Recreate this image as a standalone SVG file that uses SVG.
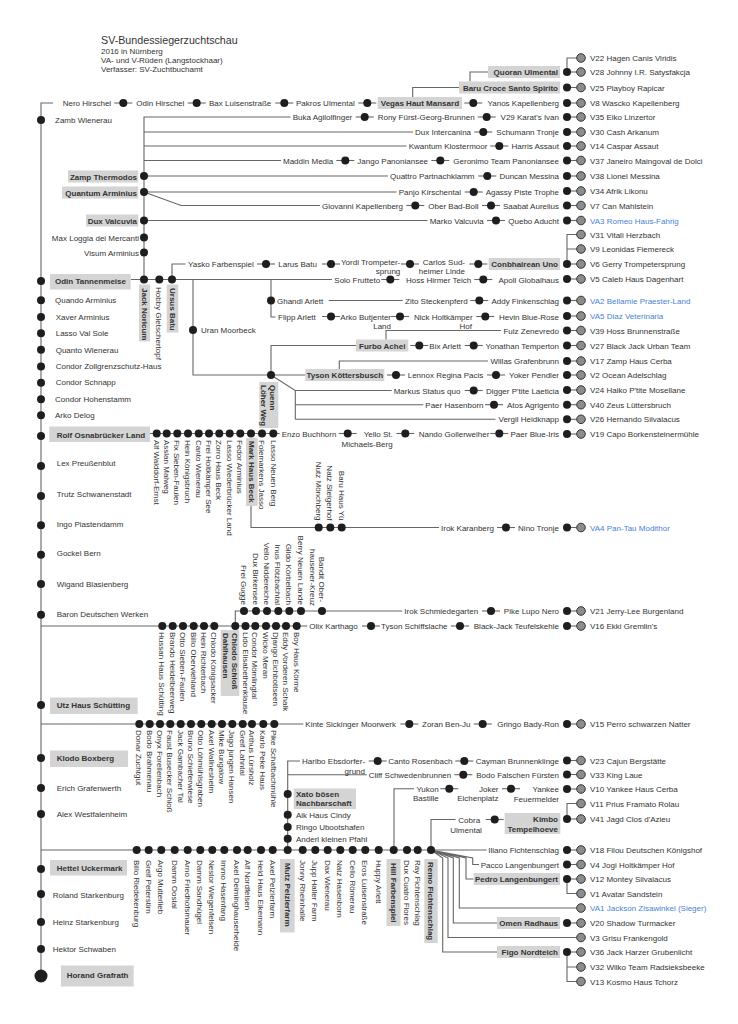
<svg xmlns="http://www.w3.org/2000/svg" width="738" height="1024" viewBox="0 0 738 1024">
<style>
text{font-family:"Liberation Sans",Arial,Helvetica,sans-serif;font-size:8px;fill:#333}
.t{font-size:10.7px}
.b{font-weight:bold}
.e{text-anchor:end}
.m{text-anchor:middle}
.bl{fill:#4a82d4}
.bx{fill:#d4d4d4}
.ln{stroke:#666;stroke-width:1.1;fill:none}
.bd{fill:#1e1e1e}
.gd{fill:#8c8c8c;stroke:#333;stroke-width:1}
</style>
<defs>
<g id="c"><line x1="-9" x2="9" class="ln"/><circle r="4" class="bd"/></g>
<g id="e"><line x1="567" x2="581" class="ln"/><circle cx="567" r="4" class="bd"/><circle cx="581" r="4.3" class="gd"/></g>
<circle id="g" cx="581" r="4.3" class="gd"/>
<circle id="d" r="4" class="bd"/>
</defs>
<rect width="738" height="1024" fill="#fff"/>
<g id="title">
<text class="t" x="101" y="44">SV-Bundessiegerzuchtschau</text>
<text x="101" y="53.5">2016 in Nürnberg</text>
<text x="101" y="62.5">VA- und V-Rüden (Langstockhaar)</text>
<text x="101" y="71.5">Verfasser: SV-Zuchtbuchamt</text>
</g>
<g id="connectors" class="ln">
<path d="M53,103H41V976"/>
<path d="M290.5,117H144V279.5"/>
<path d="M144,132H413M144,146H406.5M144,160.5H281M144,176H388M144,192H396.5M144,192L181,205.5H320M144,220.5H427.5"/>
<path d="M412.7,97V87.5H459M470,81.5V72H488M567,72V58H581"/>
<path d="M567,264V234.5H581M567,249H581"/>
<path d="M130.7,279.5H332M172,279.5V264H185.5M193,279.5V375H305.3M271,279.5V317H275.5M328.7,300.5H402.7"/>
<path d="M386,339.5V330.5H501M271,375V345.5H356M339.3,369V361H488"/>
<path d="M271,375L295.3,390.5V419.3M295.3,390.5H391.7M295.3,404.7H423.3M295.3,419.3H495.5"/>
<path d="M150,433.5H279.7M251,506V527.5H439"/>
<path d="M235.3,626V611H402.3M41,626H307.3M41,724H303.3"/>
<path d="M300,761H287.7V850M287.7,774.7H366.7M394,850V788.7H414M431,850V819.5H455.5"/>
<path d="M41,850H486.7"/>
<path d="M431,850L472.7,858V864.5H479M431,850L466,858V879H473.7M431,850L459.3,858V908H581M431,850L453.3,858V923H497M431,850L448,858V937.5H581M431,850L442.7,858V952H497"/>
<path d="M567,879V893.5H581M567,819V803.5H581M567,952V981.5H581M567,967H581"/>
</g>

<g id="spine">
<use href="#d" x="41" y="120"/><text x="55" y="123">Zamb Wienerau</text>
<use href="#d" x="41" y="281"/><rect class="bx" x="50" y="274" width="80.7" height="15.5"/><text class="b" x="55" y="284.3">Odin Tannenmeise</text>
<use href="#d" x="41" y="300.3"/><text x="55" y="303.3">Quando Arminius</text>
<use href="#d" x="41" y="317"/><text x="55.7" y="319.5">Xaver Arminius</text>
<use href="#d" x="41" y="333.3"/><text x="55.7" y="336">Lasso Val Sole</text>
<use href="#d" x="41" y="349.7"/><text x="55.7" y="352.5">Quanto Wienerau</text>
<use href="#d" x="41" y="366.5"/><text x="55.7" y="369">Condor Zollgrenzschutz-Haus</text>
<use href="#d" x="41" y="382.7"/><text x="55.7" y="385.3">Condor Schnapp</text>
<use href="#d" x="41" y="399.3"/><text x="55" y="401.7">Condor Hohenstamm</text>
<use href="#d" x="41" y="415.3"/><text x="55" y="418.3">Arko Delog</text>
<use href="#d" x="41" y="436"/><rect class="bx" x="49.3" y="426.5" width="100.7" height="15.5"/><text class="b" x="56.7" y="437.5">Rolf Osnabrücker Land</text>
<use href="#d" x="41" y="466"/><text x="56.7" y="466.3">Lex Preußenblut</text>
<use href="#d" x="41" y="496"/><text x="56.7" y="497">Trutz Schwanenstadt</text>
<use href="#d" x="41" y="525.3"/><text x="56.7" y="526.7">Ingo Piastendamm</text>
<use href="#d" x="41" y="554.7"/><text x="56.7" y="556.3">Gockel Bern</text>
<use href="#d" x="41" y="584"/><text x="56.7" y="586.7">Wigand Blasienberg</text>
<use href="#d" x="41" y="614.7"/><text x="56.7" y="616.7">Baron Deutschen Werken</text>
<use href="#d" x="41" y="705"/><rect class="bx" x="50" y="697.5" width="87.7" height="16.5"/><text class="b" x="56.7" y="708">Utz Haus Schütting</text>
<use href="#d" x="41" y="758"/><rect class="bx" x="50" y="750.5" width="78" height="16.5"/><text class="b" x="56.7" y="761">Klodo Boxberg</text>
<use href="#d" x="41" y="788"/><text x="56.7" y="790.7">Erich Grafenwerth</text>
<use href="#d" x="41" y="814"/><text x="56.7" y="817.3">Alex Westfalenheim</text>
<use href="#d" x="41" y="869"/><rect class="bx" x="50" y="860" width="77" height="15.5"/><text class="b" x="56.7" y="871">Hettel Uckermark</text>
<use href="#d" x="41" y="894"/><text x="52.7" y="897.7">Roland Starkenburg</text>
<use href="#d" x="41" y="922"/><text x="52.7" y="925">Heinz Starkenburg</text>
<use href="#d" x="41" y="949"/><text x="52.7" y="952.3">Hektor Schwaben</text>
<circle class="bd" cx="41" cy="976" r="6.5"/><rect class="bx" x="61" y="965.5" width="72.7" height="21"/><text class="b" x="66.7" y="978.3">Horand Grafrath</text>
</g>

<g id="top-chains">
<text x="62.7" y="106">Nero Hirschel</text>
<use href="#c" x="123.3" y="103"/>
<text x="136.3" y="106">Odin Hirschel</text>
<use href="#c" x="196.7" y="103"/>
<text x="209" y="106">Bax Luisenstraße</text>
<use href="#c" x="284.3" y="103"/>
<text x="296" y="106">Pakros Ulmental</text>
<use href="#c" x="367.3" y="103"/>
<rect class="bx" x="377.7" y="97" width="84.3" height="12"/><text class="b m" x="419.9" y="106">Vegas Haut Mansard</text>
<use href="#c" x="473.3" y="103"/>
<text class="e" x="559" y="106">Yanos Kapellenberg</text>
<rect class="bx" x="488" y="66" width="72" height="12"/><text class="b e" x="558" y="75">Quoran Ulmental</text>
<rect class="bx" x="459" y="81.5" width="101" height="12"/><text class="b e" x="558" y="90.5">Baru Croce Santo Spirito</text>

<text x="292.7" y="120">Buka Agilolfinger</text>
<use href="#c" x="364.7" y="117"/>
<text x="377.7" y="120">Rony Fürst-Georg-Brunnen</text>
<use href="#c" x="486.7" y="117"/>
<text class="e" x="559" y="120">V29 Karat's Ivan</text>

<text x="415" y="135">Dux Intercanina</text>
<use href="#c" x="483.3" y="132"/>
<text class="e" x="559" y="135">Schumann Tronje</text>

<text x="408.7" y="149">Kwantum Klostermoor</text>
<use href="#c" x="499.3" y="146"/>
<text class="e" x="559" y="149">Harris Assaut</text>

<text x="283" y="163.5">Maddin Media</text>
<use href="#c" x="345.3" y="160.5"/>
<text x="357.3" y="163.5">Jango Panoniansee</text>
<use href="#c" x="440.3" y="160.5"/>
<text class="e" x="559" y="163.5">Geronimo Team Panoniansee</text>

<text x="390" y="179">Quattro Partnachklamm</text>
<use href="#c" x="487.3" y="176"/>
<text class="e" x="559" y="179">Duncan Messina</text>

<text x="398.7" y="195">Panjo Kirschental</text>
<use href="#c" x="473.7" y="192"/>
<text class="e" x="559" y="195">Agassy Piste Trophe</text>

<text x="322" y="208.5">Giovanni Kapellenberg</text>
<use href="#c" x="415.3" y="205.5"/>
<text x="428.3" y="208.5">Ober Bad-Boll</text>
<use href="#c" x="491" y="205.5"/>
<text class="e" x="559" y="208.5">Saabat Aurelius</text>

<text x="429.7" y="223.5">Marko Valcuvia</text>
<use href="#c" x="496" y="220.5"/>
<text class="e" x="559" y="223.5">Quebo Aducht</text>
</g>

<g id="left-tree">
<use href="#d" x="144" y="176"/><rect class="bx" x="68" y="170.5" width="70.3" height="12"/><text class="b e" x="137" y="179.5">Zamp Thermodos</text>
<use href="#d" x="144" y="192"/><rect class="bx" x="62" y="186.5" width="76.3" height="12"/><text class="b e" x="137" y="195.5">Quantum Arminius</text>
<use href="#d" x="144" y="220.5"/><rect class="bx" x="86" y="214.5" width="52.3" height="12"/><text class="b e" x="137" y="224">Dux Valcuvia</text>
<use href="#d" x="144" y="237.5"/><text class="e" x="139" y="240.5">Max Loggia dei Mercanti</text>
<use href="#d" x="144" y="252.5"/><text class="e" x="139" y="255.5">Visum Arminius</text>
</g>

<g id="odin-row">
<use href="#d" x="144" y="279.5"/><rect class="bx" x="139" y="284.5" width="11" height="57"/>
<text class="b" transform="translate(144.5,288) rotate(90)" y="3">Jack Noricum</text>
<use href="#d" x="159.3" y="279.5"/>
<text transform="translate(159.3,287) rotate(90)" y="3">Hobby Gletschertopf</text>
<use href="#d" x="172" y="279.5"/><rect class="bx" x="166.7" y="284.5" width="11.6" height="48"/>
<text class="b" transform="translate(172.5,288) rotate(90)" y="3">Ursus Batu</text>
<text x="334.3" y="282.5">Solo Frutteto</text>
<use href="#c" x="390.3" y="279.5"/>
<text x="406" y="282.5">Hoss Hirmer Teich</text>
<use href="#c" x="483.3" y="279.5"/>
<text class="e" x="559" y="282.5">Apoll Globalhaus</text>

<text x="188" y="267">Yasko Farbenspiel</text>
<use href="#c" x="266" y="264"/>
<text x="278.3" y="267">Larus Batu</text>
<use href="#c" x="331" y="264"/>
<text class="e" x="400.3" y="265">Yordi Trompeter-</text>
<text class="e" x="400.3" y="274">sprung</text>
<use href="#c" x="410" y="264"/>
<text class="e" x="465" y="265">Carlos Sud-</text>
<text class="e" x="465" y="274">heimer Linde</text>
<use href="#c" x="478.3" y="264"/>
<rect class="bx" x="488.7" y="258" width="71.3" height="12"/><text class="b e" x="558" y="267">Conbhairean Uno</text>

<use href="#d" x="193" y="330"/><text x="201" y="333">Uran Moorbeck</text>

<use href="#d" x="271" y="300.5"/>
<text x="277" y="303.5">Ghandi Arlett</text>
<text x="405" y="303.5">Zito Steckenpferd</text>
<use href="#c" x="479.3" y="300.5"/>
<text class="e" x="559" y="303.5">Addy Finkenschlag</text>

<text x="278" y="319.5">Flipp Arlett</text>
<use href="#c" x="331" y="316.5"/>
<text class="e" x="391" y="319.5">Arko Butjenter</text>
<text class="e" x="391" y="329">Land</text>
<use href="#c" x="400" y="316.5"/>
<text class="e" x="472.7" y="319.5">Nick Holtkämper</text>
<text class="e" x="472" y="329">Hof</text>
<use href="#c" x="485.3" y="316.5"/>
<text class="e" x="559" y="319.5">Hevin Blue-Rose</text>

<text class="e" x="559" y="333.5">Fulz Zenevredo</text>

<rect class="bx" x="356" y="339.5" width="52.3" height="12"/><text class="b m" x="382.2" y="348.5">Furbo Achei</text>
<use href="#c" x="419.3" y="345.5"/>
<text x="429.3" y="348.5">Bix Arlett</text>
<use href="#c" x="473.7" y="345.5"/>
<text class="e" x="559" y="348.5">Yonathan Temperton</text>

<text class="e" x="559" y="364">Willas Grafenbrunn</text>

<use href="#d" x="271" y="375"/>
<rect class="bx" x="259.3" y="382" width="19" height="46"/>
<text class="b" transform="translate(273,385) rotate(90)" y="3">Quenn</text>
<text class="b" transform="translate(263.5,385) rotate(90)" y="3">Löher Weg</text>
<rect class="bx" x="305.3" y="369" width="79" height="12"/><text class="b m" x="344.8" y="378">Tyson Köttersbusch</text>
<use href="#c" x="396" y="375"/>
<text x="407.7" y="378">Lennox Regina Pacis</text>
<use href="#c" x="496" y="375"/>
<text class="e" x="559" y="378">Yoker Pendler</text>

<text x="393.7" y="393.5">Markus Status quo</text>
<use href="#c" x="473.7" y="390.5"/>
<text class="e" x="559" y="393.5">Digger P'tite Laeticia</text>

<text x="425.3" y="407.7">Paer Hasenborn</text>
<use href="#c" x="494" y="404.7"/>
<text class="e" x="559" y="407.7">Atos Agrigento</text>

<text class="e" x="559" y="422.3">Vergil Heidknapp</text>
</g>

<g id="rolf-row">
<use href="#d" x="156.7" y="433.5"/><use href="#d" x="166.7" y="433.5"/><use href="#d" x="177.3" y="433.5"/><use href="#d" x="188" y="433.5"/><use href="#d" x="198.7" y="433.5"/><use href="#d" x="209" y="433.5"/><use href="#d" x="219.3" y="433.5"/><use href="#d" x="229.7" y="433.5"/><use href="#d" x="240.3" y="433.5"/><use href="#d" x="251" y="433.5"/><use href="#d" x="262" y="433.5"/><use href="#d" x="273.3" y="433.5"/>
<text transform="translate(156.7,440) rotate(90)" y="3">Alf Walddorf-Ernst</text>
<text transform="translate(166.7,440) rotate(90)" y="3">Asslan Malweg</text>
<text transform="translate(177.3,440) rotate(90)" y="3">Fix Sieben-Faulen</text>
<text transform="translate(188,440) rotate(90)" y="3">Hein Königsbruch</text>
<text transform="translate(198.7,440) rotate(90)" y="3">Canto Wienerau</text>
<text transform="translate(209,440) rotate(90)" y="3">Frei Holtkämper See</text>
<text transform="translate(219.3,440) rotate(90)" y="3">Zorro Haus Beck</text>
<text transform="translate(229.7,440) rotate(90)" y="3">Lasso Wiederbrücker Land</text>
<text transform="translate(240.3,440) rotate(90)" y="3">Fedor Arminius</text>
<rect class="bx" x="246" y="438" width="11.7" height="68"/>
<text class="b" transform="translate(251.5,441) rotate(90)" y="3">Mark Haus Beck</text>
<text transform="translate(262,440) rotate(90)" y="3">Folemarkens Jasso</text>
<text transform="translate(273.8,440) rotate(90)" y="3">Lasso Neuen Berg</text>
<text x="281.7" y="436.5">Enzo Buchhorn</text>
<use href="#c" x="347.7" y="433.5"/>
<text class="e" x="392.7" y="436.5">Yello St.</text>
<text class="e" x="392.7" y="446.5">Michaels-Berg</text>
<use href="#c" x="405.3" y="433.5"/>
<text x="418.7" y="436.5">Nando Gollerweiher</text>
<use href="#c" x="499.3" y="433.5"/>
<text class="e" x="559" y="437">Paer Blue-Iris</text>
</g>

<g id="irok-row">
<use href="#d" x="318.7" y="527.5"/><use href="#d" x="330.3" y="527.5"/><use href="#d" x="341.7" y="527.5"/>
<text class="e" transform="translate(318.7,520.5) rotate(90)" y="3">Nutz Mönchberg</text>
<text class="e" transform="translate(330.3,520.5) rotate(90)" y="3">Natz Steigerhof</text>
<text class="e" transform="translate(341.7,520.5) rotate(90)" y="3">Baru Haus Yü</text>
<text x="441" y="530.5">Irok Karanberg</text>
<use href="#c" x="506" y="527.5"/>
<text class="e" x="559" y="530.5">Nino Tronje</text>
</g>

<g id="frei-row">
<use href="#d" x="244" y="611"/><use href="#d" x="256" y="611"/><use href="#d" x="267" y="611"/><use href="#d" x="278.3" y="611"/><use href="#d" x="289.3" y="611"/><use href="#d" x="301" y="611"/><use href="#d" x="322" y="611"/>
<text class="e" transform="translate(244,605) rotate(90)" y="3">Frei Gugge</text>
<text class="e" transform="translate(256,605) rotate(90)" y="3">Dux Birkensee</text>
<text class="e" transform="translate(267,605) rotate(90)" y="3">Vello Niddereiche</text>
<text class="e" transform="translate(278.3,605) rotate(90)" y="3">Inus Flötzbachtal</text>
<text class="e" transform="translate(289.3,605) rotate(90)" y="3">Gildo Körbelbach</text>
<text class="e" transform="translate(301,605) rotate(90)" y="3">Berry Neuen Lande</text>
<text class="e" transform="translate(321.5,602) rotate(90)" y="3">Bandit Ober-</text>
<text class="e" transform="translate(312.5,606) rotate(90)" y="3">hausener-Kreuz</text>
<text x="404.3" y="614">Irok Schmiedegarten</text>
<use href="#c" x="491" y="611"/>
<text class="e" x="559" y="614">Pike Lupo Nero</text>
</g>

<g id="olix-row">
<use href="#d" x="162.3" y="626"/><use href="#d" x="172.7" y="626"/><use href="#d" x="183" y="626"/><use href="#d" x="193.7" y="626"/><use href="#d" x="204" y="626"/><use href="#d" x="214.3" y="626"/><use href="#d" x="235.3" y="626"/><use href="#d" x="245.5" y="626"/><use href="#d" x="255.3" y="626"/><use href="#d" x="266" y="626"/><use href="#d" x="276" y="626"/><use href="#d" x="286" y="626"/><use href="#d" x="296.7" y="626"/>
<text transform="translate(162.3,632) rotate(90)" y="3">Hussan Haus Schütting</text>
<text transform="translate(172.7,632) rotate(90)" y="3">Brando Heidelbeerweg</text>
<text transform="translate(183,632) rotate(90)" y="3">Otto Sieben-Faulen</text>
<text transform="translate(193.7,632) rotate(90)" y="3">Billo Oberviehland</text>
<text transform="translate(204,632) rotate(90)" y="3">Hein Richterbach</text>
<text transform="translate(214.3,632) rotate(90)" y="3">Chlodo Königsacker</text>
<rect class="bx" x="220.7" y="630" width="18.6" height="66"/>
<text class="b" transform="translate(234.5,633) rotate(90)" y="3">Chlodo Schloß</text>
<text class="b" transform="translate(225.5,633) rotate(90)" y="3">Dahlhausen</text>
<text transform="translate(245.5,632) rotate(90)" y="3">Lido Elisabethenklause</text>
<text transform="translate(255.3,632) rotate(90)" y="3">Condor Mömlingtal</text>
<text transform="translate(266,632) rotate(90)" y="3">Wicko Meran</text>
<text transform="translate(276,632) rotate(90)" y="3">Django Eichbottseen</text>
<text transform="translate(286,632) rotate(90)" y="3">Eddy Vorderen Schalk</text>
<text transform="translate(296.7,632) rotate(90)" y="3">Boy Haus Körme</text>
<text x="309.3" y="629">Olix Karthago</text>
<use href="#c" x="371" y="626"/>
<text x="381" y="629">Tyson Schiffslache</text>
<use href="#c" x="460" y="626"/>
<text class="e" x="559" y="629">Black-Jack Teufelskehle</text>
</g>

<g id="kinte-row">
<use href="#d" x="139.3" y="724"/><use href="#d" x="149.7" y="724"/><use href="#d" x="160" y="724"/><use href="#d" x="170.3" y="724"/><use href="#d" x="180.7" y="724"/><use href="#d" x="191" y="724"/><use href="#d" x="201.3" y="724"/><use href="#d" x="211.7" y="724"/><use href="#d" x="222" y="724"/><use href="#d" x="232.3" y="724"/><use href="#d" x="242.7" y="724"/><use href="#d" x="252" y="724"/><use href="#d" x="263.3" y="724"/><use href="#d" x="274.3" y="724"/>
<text transform="translate(139.3,730) rotate(90)" y="3">Donar Zuchtgut</text>
<text transform="translate(149.7,730) rotate(90)" y="3">Bodo Brahmenau</text>
<text transform="translate(160,730) rotate(90)" y="3">Onyx Forellenbach</text>
<text transform="translate(170.3,730) rotate(90)" y="3">Faust Busecker Schloß</text>
<text transform="translate(180.7,730) rotate(90)" y="3">Jack Gambacher Tal</text>
<text transform="translate(191,730) rotate(90)" y="3">Bruno Schieferwiese</text>
<text transform="translate(201.3,730) rotate(90)" y="3">Otto Löhmühlsgraben</text>
<text transform="translate(211.7,730) rotate(90)" y="3">Axel Wallnesheim</text>
<text transform="translate(222,730) rotate(90)" y="3">Mike Bungalow</text>
<text transform="translate(232.3,730) rotate(90)" y="3">Jago jungen Hansen</text>
<text transform="translate(242.7,730) rotate(90)" y="3">Greif Lahntal</text>
<text transform="translate(252,730) rotate(90)" y="3">Arthus Lürsholz</text>
<text transform="translate(263.3,730) rotate(90)" y="3">Karlo Peke Haus</text>
<text transform="translate(274.3,730) rotate(90)" y="3">Pike Schafbachmühle</text>
<text x="305.3" y="727">Kinte Sickinger Moorwerk</text>
<use href="#c" x="409.3" y="724"/>
<text x="422" y="727">Zoran Ben-Ju</text>
<use href="#c" x="482.7" y="724"/>
<text class="e" x="559" y="727">Gringo Bady-Ron</text>
</g>

<g id="haribo">
<text x="302" y="764">Haribo Ebsdorfer-</text>
<text class="e" x="365" y="774">grund</text>
<use href="#c" x="377.7" y="761"/>
<text x="388.3" y="764">Canto Rosenbach</text>
<use href="#c" x="464.3" y="761"/>
<text class="e" x="559" y="763.5">Cayman Brunnenklinge</text>
<text x="368.7" y="777.7">Cliff Schwedenbrunnen</text>
<use href="#c" x="463.3" y="774.7"/>
<text class="e" x="559" y="777.5">Bodo Falschen Fürsten</text>
<use href="#d" x="287.7" y="794"/><use href="#d" x="287.7" y="814.7"/><use href="#d" x="287.7" y="827"/><use href="#d" x="287.7" y="838.7"/>
<rect class="bx" x="293.7" y="788.5" width="62.3" height="20.5"/>
<text class="b" x="296" y="797">Xato bösen</text>
<text class="b" x="296" y="806.3">Nachbarschaft</text>
<text x="296" y="817.7">Aik Haus Cindy</text>
<text x="296" y="830">Ringo Ubootshafen</text>
<text x="296" y="841.5">Anderl kleinen Pfahl</text>
</g>

<g id="yukon">
<text class="e" x="438.7" y="791.7">Yukon</text>
<text class="e" x="438.7" y="801">Bastille</text>
<use href="#c" x="449.3" y="788.7"/>
<text class="e" x="498.5" y="791.7">Joker</text>
<text class="e" x="498.5" y="801">Eichenplatz</text>
<use href="#c" x="511" y="788.7"/>
<text class="e" x="559" y="791.7">Yankee</text>
<text class="e" x="559" y="801.5">Feuermelder</text>
<text x="458.3" y="822.5">Cobra</text>
<text x="450.3" y="833">Ulmental</text>
<use href="#c" x="494.7" y="819.5"/>
<rect class="bx" x="504.7" y="813" width="55.6" height="21"/>
<text class="b e" x="558" y="822">Kimbo</text>
<text class="b e" x="558" y="831.7">Tempelhoeve</text>
</g>

<g id="bottom-row">
<use href="#d" x="136.7" y="850"/><use href="#d" x="148.7" y="850"/><use href="#d" x="161.3" y="850"/><use href="#d" x="174.7" y="850"/><use href="#d" x="187.7" y="850"/><use href="#d" x="200.3" y="850"/><use href="#d" x="212.3" y="850"/><use href="#d" x="224.3" y="850"/><use href="#d" x="237" y="850"/><use href="#d" x="247.7" y="850"/><use href="#d" x="261" y="850"/><use href="#d" x="272.7" y="850"/><use href="#d" x="287.7" y="850"/><use href="#d" x="302.7" y="850"/><use href="#d" x="315.3" y="850"/><use href="#d" x="327.7" y="850"/><use href="#d" x="340.3" y="850"/><use href="#d" x="352.7" y="850"/><use href="#d" x="365.3" y="850"/><use href="#d" x="378.7" y="850"/><use href="#d" x="393.7" y="850"/><use href="#d" x="407" y="850"/><use href="#d" x="417.7" y="850"/><use href="#d" x="431" y="850"/>
<text transform="translate(136.7,860) rotate(90)" y="3">Billo Riedekenburg</text>
<text transform="translate(148.7,860) rotate(90)" y="3">Greif Peterstirn</text>
<text transform="translate(161.3,860) rotate(90)" y="3">Argo Mutterlieb</text>
<text transform="translate(174.7,860) rotate(90)" y="3">Damm Oostal</text>
<text transform="translate(187.7,860) rotate(90)" y="3">Arno Friedhofsmauer</text>
<text transform="translate(200.3,860) rotate(90)" y="3">Damm Sandhügel</text>
<text transform="translate(212.3,860) rotate(90)" y="3">Nestor Wiegenfelsen</text>
<text transform="translate(224.3,860) rotate(90)" y="3">Immo Hasenfang</text>
<text transform="translate(237,860) rotate(90)" y="3">Axel Deiminghauserheide</text>
<text transform="translate(247.7,860) rotate(90)" y="3">Alf Nordfelsen</text>
<text transform="translate(261,860) rotate(90)" y="3">Held Haus Eikemann</text>
<text transform="translate(272.7,860) rotate(90)" y="3">Axel Pelzlerfarm</text>
<rect class="bx" x="280" y="859" width="14.7" height="73.5"/>
<text class="b" transform="translate(287.7,863) rotate(90)" y="3">Mutz Pelzlerfarm</text>
<text transform="translate(302.7,860) rotate(90)" y="3">Jonny Rheinhalle</text>
<text transform="translate(315.3,860) rotate(90)" y="3">Jupp Haller Farm</text>
<text transform="translate(327.7,860) rotate(90)" y="3">Dax Wienerau</text>
<text transform="translate(340.3,860) rotate(90)" y="3">Natz Hasenborn</text>
<text transform="translate(352.7,860) rotate(90)" y="3">Cello Römerau</text>
<text transform="translate(365.3,860) rotate(90)" y="3">Eros Luisenstraße</text>
<text transform="translate(378.7,860) rotate(90)" y="3">Huppy Arlett</text>
<rect class="bx" x="386.5" y="859" width="14" height="67"/>
<text class="b" transform="translate(393.7,863) rotate(90)" y="3">Hill Farbenspiel</text>
<text transform="translate(407,860) rotate(90)" y="3">Dux Cuatro Flores</text>
<text transform="translate(417.7,860) rotate(90)" y="3">Ray Fichtenschlag</text>
<rect class="bx" x="424.3" y="859" width="13.4" height="84"/>
<text class="b" transform="translate(431,862) rotate(90)" y="3">Remo Fichtenschlag</text>
<text class="e" x="559" y="853">Iliano Fichtenschlag</text>
<text class="e" x="559" y="867.5">Pacco Langenbungert</text>
<rect class="bx" x="473.7" y="873" width="86.3" height="12"/><text class="b e" x="558" y="882">Pedro Langenbungert</text>
<rect class="bx" x="497" y="917" width="63" height="12"/><text class="b e" x="558" y="926">Omen Radhaus</text>
<rect class="bx" x="497" y="946" width="63" height="12"/><text class="b e" x="558" y="955">Figo Nordteich</text>
</g>

<g id="winners">
<use href="#g" y="58"/><text x="590" y="61">V22 Hagen Canis Viridis</text>
<use href="#e" y="72"/><text x="590" y="75">V28 Johnny I.R. Satysfakcja</text>
<use href="#e" y="87.5"/><text x="590" y="90.5">V25 Playboy Rapicar</text>
<use href="#e" y="103"/><text x="590" y="106">V8 Wascko Kapellenberg</text>
<use href="#e" y="117"/><text x="590" y="120">V35 Eiko Linzertor</text>
<use href="#e" y="132"/><text x="590" y="135">V30 Cash Arkanum</text>
<use href="#e" y="146"/><text x="590" y="149">V14 Caspar Assaut</text>
<use href="#e" y="160.5"/><text x="590" y="163.5">V37 Janeiro Maingoval de Dolci</text>
<use href="#e" y="176"/><text x="590" y="179">V38 Lionel Messina</text>
<use href="#e" y="191"/><text x="590" y="194">V34 Afrik Likonu</text>
<use href="#e" y="205.5"/><text x="590" y="208.5">V7 Can Mahlstein</text>
<use href="#e" y="220.5"/><text class="bl" x="590" y="223.5">VA3 Romeo Haus-Fahrig</text>
<use href="#g" y="234.5"/><text x="590" y="237.5">V31 Vitali Herzbach</text>
<use href="#g" y="249"/><text x="590" y="252">V9 Leonidas Fiemereck</text>
<use href="#e" y="264"/><text x="590" y="267">V6 Gerry Trompetersprung</text>
<use href="#e" y="279"/><text x="590" y="282">V5 Caleb Haus Dagenhart</text>
<use href="#e" y="300.5"/><text class="bl" x="590" y="303.5">VA2 Bellamie Praester-Land</text>
<use href="#e" y="316"/><text class="bl" x="590" y="319">VA5 Diaz Veterinaria</text>
<use href="#e" y="330.5"/><text x="590" y="333.5">V39 Hoss Brunnenstraße</text>
<use href="#e" y="345.5"/><text x="590" y="348.5">V27 Black Jack Urban Team</text>
<use href="#e" y="361"/><text x="590" y="364">V17 Zamp Haus Cerba</text>
<use href="#e" y="375"/><text x="590" y="378">V2 Ocean Adelschlag</text>
<use href="#e" y="390"/><text x="590" y="393">V24 Haiko P'tite Mosellane</text>
<use href="#e" y="404.7"/><text x="590" y="407.7">V40 Zeus Lüttersbruch</text>
<use href="#e" y="419.3"/><text x="590" y="422.3">V26 Hernando Silvalacus</text>
<use href="#e" y="434"/><text x="590" y="437">V19 Capo Borkensteinermühle</text>
<use href="#e" y="527.5"/><text class="bl" x="590" y="530.5">VA4 Pan-Tau Modithor</text>
<use href="#e" y="611"/><text x="590" y="614">V21 Jerry-Lee Burgenland</text>
<use href="#e" y="626"/><text x="590" y="629">V16 Ekki Gremlin's</text>
<use href="#e" y="724"/><text x="590" y="727">V15 Perro schwarzen Natter</text>
<use href="#e" y="760.5"/><text x="590" y="763.5">V23 Cajun Bergstätte</text>
<use href="#e" y="774.5"/><text x="590" y="777.5">V33 King Laue</text>
<use href="#e" y="789"/><text x="590" y="792">V10 Yankee Haus Cerba</text>
<use href="#g" y="803.5"/><text x="590" y="806.5">V11 Prius Framato Rolau</text>
<use href="#e" y="819"/><text x="590" y="821.5">V41 Jagd Clos d'Azieu</text>
<use href="#e" y="850"/><text x="590" y="853">V18 Filou Deutschen Königshof</text>
<use href="#e" y="864.5"/><text x="590" y="867.5">V4 Jogi Holtkämper Hof</text>
<use href="#e" y="879"/><text x="590" y="882">V12 Montey Silvalacus</text>
<use href="#g" y="893.5"/><text x="590" y="896.5">V1 Avatar Sandstein</text>
<use href="#g" y="908"/><text class="bl" x="590" y="911">VA1 Jackson Zisawinkel (Sieger)</text>
<use href="#e" y="923"/><text x="590" y="926">V20 Shadow Turmacker</text>
<use href="#g" y="937.5"/><text x="590" y="940.5">V3 Grisu Frankengold</text>
<use href="#e" y="952"/><text x="590" y="955">V36 Jack Harzer Grubenlicht</text>
<use href="#g" y="967"/><text x="590" y="970">V32 Wilko Team Radsieksbeeke</text>
<use href="#g" y="981.5"/><text x="590" y="984.5">V13 Kosmo Haus Tchorz</text>
</g>
</svg>
